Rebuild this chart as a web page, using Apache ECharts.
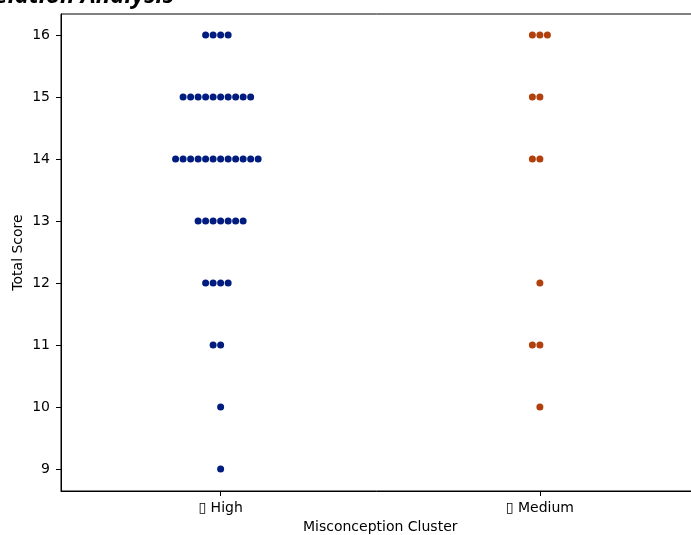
<!DOCTYPE html>
<html><head><meta charset="utf-8">
<script src="https://cdn.jsdelivr.net/npm/echarts@6/dist/echarts.min.js"></script>
<style>html,body{margin:0;padding:0;background:#fff}#c{width:691px;height:535px}</style>
</head><body><div id="c"></div>
<script>
const categories = ['\u25AF High', '\u25AF Medium'];
const scoreLevels = [9, 10, 11, 12, 13, 14, 15, 16];
const highCounts   = [1, 1, 2, 4, 7, 12, 10, 4];
const mediumCounts = [0, 1, 2, 1, 0, 2, 2, 3];
const colors = ['#001c7f', '#b1400d'];
const yTicks = [9, 10, 11, 12, 13, 14, 15, 16];
const titleText = 'Misconception\u2013Score Correlation Analysis';
const yName = 'Total Score';
const xName = 'Misconception Cluster';

const SPACING = 7.5 / 319; // horizontal swarm step in category units

function swarm(catIndex, counts) {
  const pts = [];
  scoreLevels.forEach((v, i) => {
    const n = counts[i];
    const start = -Math.floor(n / 2);
    for (let k = 0; k < n; k++) pts.push([catIndex + (start + k) * SPACING, v]);
  });
  return pts;
}

const chart = echarts.init(document.getElementById('c'));
const font = 'DejaVu Sans';
chart.setOption({
  animation: false,
  textStyle: { fontFamily: font },
  graphic: [{
    type: 'text', x: 174, y: -4,
    style: { text: titleText, textAlign: 'right', textVerticalAlign: 'middle',
      font: 'italic bold 24px "Open Sans"', fill: '#000' }
  }, {
    type: 'text', x: 18, y: 252.5, rotation: Math.PI / 2,
    style: { text: yName, textAlign: 'center', textVerticalAlign: 'middle',
      font: '14px "DejaVu Sans"', fill: '#000' }
  }],
  grid: { left: 61, top: 14, width: 638.5, bottom: 44, outerBoundsMode: 'none', containLabel: false,
    show: true, borderColor: '#000', borderWidth: 1, backgroundColor: 'transparent' },
  xAxis: {
    type: 'value', min: -0.5, max: 1.5,
    name: xName, nameLocation: 'middle', nameGap: 29,
    nameTextStyle: { fontSize: 14, color: '#000', fontFamily: font },
    axisLine: { show: true, onZero: false, lineStyle: { color: '#000', width: 1 } },
    axisTick: { show: true, length: 5, lineStyle: { color: '#000' }, customValues: [0, 1] },
    axisLabel: { customValues: [0, 1], formatter: v => categories[Math.round(v)] || '', fontSize: 14, color: '#000', fontFamily: font, margin: 10 },
    splitLine: { show: false }
  },
  yAxis: {
    type: 'value', min: 8.645, max: 16.34,
    axisLine: { show: true, onZero: false, lineStyle: { color: '#000', width: 1 } },
    axisTick: { show: true, length: 5, lineStyle: { color: '#000' }, customValues: yTicks },
    axisLabel: { customValues: yTicks, fontSize: 14, color: '#000', fontFamily: font, margin: 11 },
    splitLine: { show: false }
  },
  series: [
    { type: 'scatter', data: swarm(0, highCounts), symbolSize: 7, itemStyle: { color: colors[0], opacity: 1 } },
    { type: 'scatter', data: swarm(1, mediumCounts), symbolSize: 7, itemStyle: { color: colors[1], opacity: 1 } }
  ]
});
</script></body></html>
